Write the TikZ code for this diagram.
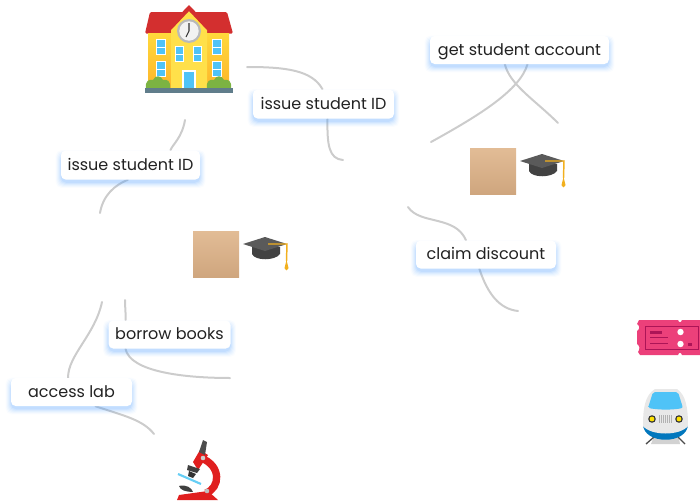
\documentclass[tikz,border=0pt]{standalone}
\usepackage{fontspec}
\setmainfont{Poppins}
\usetikzlibrary{backgrounds,calc}
\definecolor{conn}{HTML}{CCCCCC}
\definecolor{glow}{HTML}{5AA5FF}
\definecolor{ink}{HTML}{222222}
\definecolor{skinA}{HTML}{E2BC96}
\definecolor{skinB}{HTML}{CFA67E}
\definecolor{capgray}{HTML}{5A5A5A}
\definecolor{capdark}{HTML}{424242}
\definecolor{tassel}{HTML}{F2B01E}
\definecolor{roof}{HTML}{D32F2F}
\definecolor{wallA}{HTML}{FFD93B}
\definecolor{wallB}{HTML}{FDB52B}
\definecolor{wallC}{HTML}{FFE04A}
\definecolor{pane}{HTML}{4FC3F7}
\definecolor{bush}{HTML}{7CB342}
\definecolor{ground}{HTML}{607D8B}
\definecolor{tk}{HTML}{EC407A}
\definecolor{tkd}{HTML}{AD1457}
\definecolor{mred}{HTML}{E01F1F}
\definecolor{trainblue}{HTML}{0277BD}
\tikzset{
  x=0.75pt,y=-0.75pt,
  lbl/.style={fill=white,rounded corners=3.5pt,inner sep=0pt,text=ink,font=\fontsize{12pt}{14pt}\selectfont,text height=9pt,text depth=1.5pt,anchor=center},
  link/.style={draw=conn,line width=1.5pt,line cap=round}
}
\newcommand{\lblglow}[1]{%
  \foreach \e/\o in {5/0.03,4/0.05,3/0.06,2/0.08,1/0.10,0/0.12}{
    \fill[glow,opacity=\o,rounded corners=4pt]
      ($(#1.south west)+(-\e*0.75pt,-3*0.75pt-\e*0.75pt)$) rectangle ($(#1.north east)+(\e*0.75pt,\e*0.75pt-5*0.75pt)$);
  }}
\newcommand{\studenticon}[3]{% x y name
  \begin{scope}[shift={(#1,#2)}]
    \node[inner sep=0pt,minimum size=0pt] (#3) at (23,23) {};
    \shade[top color=skinA,bottom color=skinB] (0,0) rectangle (46,46);
    \fill[capdark] (59,16) -- (59,23) .. controls (62,30) and (82,30) .. (87,23) -- (87,16) -- cycle;
    \fill[capgray] (50,13) -- (72,6) -- (94,13) -- (72,20) -- cycle;
    \draw[tassel,line width=1.1pt] (75,13) -- (94,13) -- (93.5,30);
    \fill[tassel] (93.5,29) -- (95.5,37) -- (91.5,37) -- cycle;
    \fill[tassel] (93.5,37.5) circle (1.8);
  \end{scope}}
\begin{document}
\begin{tikzpicture}
\useasboundingbox (0,0) rectangle (700,500);
% labels
\node[lbl,minimum width=141*0.75pt,minimum height=29*0.75pt] (issueA) at (323.5,104) {issue student ID};
\node[lbl,minimum width=139*0.75pt,minimum height=29*0.75pt] (issueB) at (130.5,165) {issue student ID};
\node[lbl,minimum width=179*0.75pt,minimum height=28*0.75pt] (account) at (519.5,50) {get student account};
\node[lbl,minimum width=140*0.75pt,minimum height=28*0.75pt] (claim) at (486,254.5) {claim discount};
\node[lbl,minimum width=122*0.75pt,minimum height=28*0.75pt] (borrow) at (169.5,334.5) {borrow books};
\node[lbl,minimum width=121*0.75pt,minimum height=28*0.75pt] (access) at (71.5,392) {access lab};
% free ends
\coordinate (schoolR) at (247,67);
\coordinate (schoolB) at (185,120);
\coordinate (stuTopL) at (343,160);
\coordinate (stuTopU) at (431,142);
\coordinate (stuTopR) at (408,207);
\coordinate (stuLowU) at (100,213);
\coordinate (stuLowA) at (102,302);
\coordinate (stuLowB) at (125,300);
\coordinate (accEnd) at (558,123);
\coordinate (tickEnd) at (518,311);
\coordinate (bookEnd) at (230,378);
\coordinate (labEnd) at (154,434);
\begin{scope}[on background layer]
  \draw[link] (schoolR) .. controls (285,67) and (312,70) .. ([xshift=-0.75pt]issueA.north);
  \draw[link] ([xshift=3pt]issueA.south) .. controls (327,145) and (329,159) .. (stuTopL);
  \draw[link] (schoolB) .. controls (182,138) and (172,145) .. ([xshift=30pt]issueB.north);
  \draw[link] ([xshift=-2pt]issueB.south) .. controls (115,185) and (103,195) .. (stuLowU);
  \draw[link] (stuTopU) .. controls (480,115) and (520,90) .. ([xshift=6pt]account.south);
  \draw[link] ([xshift=-11pt]account.south) .. controls (510,85) and (535,100) .. (accEnd);
  \draw[link] (stuTopR) .. controls (420,225) and (455,215) .. ([xshift=-15pt]claim.north);
  \draw[link] ([xshift=-5pt]claim.south) .. controls (488,295) and (500,309) .. (tickEnd);
  \draw[link] (stuLowA) .. controls (95,335) and (68,355) .. ([xshift=-2.6pt]access.north);
  \draw[link] ([xshift=18pt]access.south) .. controls (125,416) and (143,420) .. (labEnd);
  \draw[link] (stuLowB) .. controls (125,308) and (126,314) .. ([xshift=-33pt]borrow.north);
  \draw[link] ([xshift=-33pt]borrow.south) .. controls (130,372) and (185,378) .. (bookEnd);
  \lblglow{issueA}\lblglow{issueB}\lblglow{account}\lblglow{claim}\lblglow{borrow}\lblglow{access}
\end{scope}
% school
\begin{scope}
  \fill[roof,rounded corners=1pt] (145,33.5) -- (150,12) -- (227,12) -- (233,33.5) -- cycle;
  \shade[top color=wallA,bottom color=wallB] (148,33) rectangle (229,88);
  \fill[wallC] (171,88) -- (171,27) -- (189,11) -- (207,27) -- (207,88) -- cycle;
  \fill[roof] (167,28) -- (189,5) -- (211,28) -- (207,30) -- (189,11) -- (171,30) -- cycle;
  \fill[gray!55] (189,31) circle (12);
  \fill[white!95!black] (189,31) circle (9.7);
  \draw[black!80,line width=0.8pt] (189,23) -- (189,31) -- (186,37);
  \foreach \a/\b/\c/\d in {157/40/165/54,157/62/165/76,213/40/221/54,213/62/221/76,176/47/183/61,194/47/201/61}{
    \fill[white] (\a-1,\b-1) rectangle (\c+1,\d+1);
    \fill[pane] (\a,\b) rectangle (\c,\d);
    \fill[white] (\a,{(\b+\d)/2-0.5}) rectangle (\c,{(\b+\d)/2+0.5});
  }
  \fill[white] (182,70) rectangle (196,88);
  \fill[pane] (184,72) rectangle (194,88);
  \foreach \c in {158,219}{
    \fill[bush] (\c-12,88) .. controls (\c-13,81) and (\c-9,79) .. (\c-5,80) .. controls (\c-3,75) and (\c+3,75) .. (\c+5,80) .. controls (\c+9,79) and (\c+13,81) .. (\c+12,88) -- cycle;
  }
  \fill[ground] (145,88) rectangle (233,93);
  \node[inner sep=0pt] (school) at (189,50) {};
\end{scope}
% students
\studenticon{193}{231}{studentLow}
\studenticon{470}{148}{studentTop}
% ticket
\begin{scope}
  \fill[tk] (639,320) -- (678,320) .. controls (679,323) and (681,323) .. (682,320) -- (700,320) -- (700,355) -- (682,355) .. controls (681,352) and (679,352) .. (678,355) -- (640,355) -- (638,352) .. controls (640,349) and (640,346) .. (637,344) -- (637,331) .. controls (640,329) and (640,326) .. (637,324) -- cycle;
  \draw[tkd,line width=0.7pt] (645,326) rectangle (698,349);
  \fill[tkd] (650,331) rectangle (662,333.5);
  \fill[tkd] (650,337) rectangle (668,338.3);
  \fill[tkd] (650,343) rectangle (668,344.3);
  \fill[white] (680.5,332) circle (3.2);
  \fill[white] (680.5,344) circle (3.2);
  \fill[tkd] (688,343) rectangle (692,346);
\end{scope}
% train
\begin{scope}
  \fill[gray!35] (651,444) -- (655,434) -- (678,434) -- (680,444) -- cycle;
  \draw[black!70,line width=1pt] (654,437) -- (646,444);
  \draw[black!70,line width=1pt] (678,437) -- (685,444);
  \fill[trainblue] (643,424) .. controls (643,445) and (688,445) .. (688,424) -- cycle;
  \fill[gray!18] (643,426) .. controls (643,408) and (645,395) .. (655,389) -- (677,389) .. controls (686,395) and (688,408) .. (688,426) .. controls (680,436) and (651,436) .. (643,426) -- cycle;
  \fill[pane,rounded corners=1.5pt] (648,408) -- (653,392) -- (678,392) -- (683,408) .. controls (672,410) and (660,410) .. (648,408) -- cycle;
  \foreach \xx in {659,661,663,665,667,669,671}{ \fill[gray!60] (\xx,415) rectangle (\xx+1,423); }
  \fill[black!80] (652,419) circle (3.8);
  \fill[yellow!85!orange] (652,419) circle (2.4);
  \fill[black!80] (679,419) circle (3.8);
  \fill[yellow!85!orange] (679,419) circle (2.4);
\end{scope}
% microscope
\begin{scope}
  \fill[mred] (177,500) -- (179,495) -- (208,491) -- (218,500) -- cycle;
  \draw[mred,line width=5.5pt] (201,458) .. controls (222,466) and (220,488) .. (206,493);
  \fill[mred] (193,462) -- (200,450) -- (208,455) -- (198,470) -- cycle;
  \fill[gray!60!black] (199,452) -- (203,440) -- (207,442) -- (205,455) -- cycle;
  \fill[gray!40] (203,458) circle (2.3);
  \fill[gray!50!black] (188,465) -- (200,469) -- (197,473) -- (187,470) -- cycle;
  \fill[gray!40!black] (189,471) -- (196,474) -- (193,478) -- (188,476) -- cycle;
  \draw[cyan!60,line width=1.6pt] (178,474) -- (201,484);
  \fill[gray!50!black] (179,486) .. controls (186,484) and (192,488) .. (193,492) .. controls (186,492) and (180,490) .. (179,486) -- cycle;
  \fill[gray!50] (207,491) circle (2.3);
\end{scope}
\end{tikzpicture}
\end{document}
